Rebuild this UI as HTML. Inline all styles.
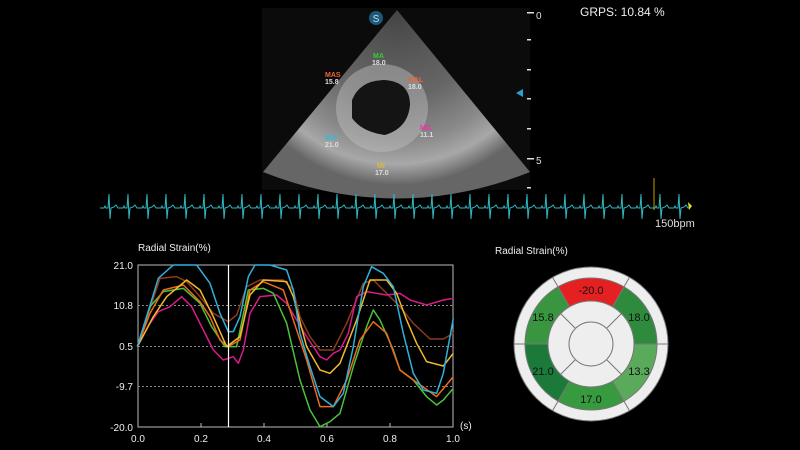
<!DOCTYPE html>
<html><head><meta charset="utf-8"><style>
html,body{margin:0;padding:0;background:#000;width:800px;height:450px;overflow:hidden}
svg{position:absolute;left:0;top:0}
text{font-family:"Liberation Sans",sans-serif}
</style></head><body>
<svg width="800" height="450" viewBox="0 0 800 450">
<defs>
<radialGradient id="us" cx="397" cy="10" r="175" gradientUnits="userSpaceOnUse">
<stop offset="0" stop-color="#444"/><stop offset="0.3" stop-color="#5a5a5a"/><stop offset="0.5" stop-color="#666"/><stop offset="0.75" stop-color="#8a8a8a"/><stop offset="0.88" stop-color="#a8a8a8"/><stop offset="1" stop-color="#666"/>
</radialGradient>
<pattern id="ecg" x="100" y="190" width="19" height="35" patternUnits="userSpaceOnUse">
<path d="M0 18 L4 18 L5 16 L6 18 L8 18 L9 4 L10 29 L11 18 L14 17 L16 15 L18 18 L19 18" fill="none" stroke="#2fb8c0" stroke-width="1"/>
</pattern>
</defs>
<rect x="262" y="8" width="268" height="182" fill="#0b0b0b"/>
<path d="M397 10 L263 172 Q397 225 530 172 Z" fill="url(#us)"/>
<ellipse cx="382" cy="108" rx="46" ry="44" fill="#c0c0c0" opacity="0.45"/>
<path d="M352 100 Q360 80 385 80 Q410 82 410 105 Q408 128 385 135 Q362 132 352 118 Z" fill="#141414"/>
<circle cx="376" cy="18" r="7" fill="#1c5a7a"/>
<text x="376" y="22" font-size="10" fill="#cde" text-anchor="middle">S</text>
<g font-size="7" font-weight="bold">
<text x="373" y="58" fill="#3c3">MA</text><text x="372" y="65" fill="#ddd">18.0</text>
<text x="325" y="77" fill="#e63">MAS</text><text x="325" y="84" fill="#ddd">15.8</text>
<text x="408" y="82" fill="#e63">MAL</text><text x="408" y="89" fill="#ddd">18.0</text>
<text x="420" y="130" fill="#e3a">MIL</text><text x="420" y="137" fill="#ddd">11.1</text>
<text x="325" y="140" fill="#3bd">MIS</text><text x="325" y="147" fill="#ddd">21.0</text>
<text x="377" y="168" fill="#db3">MI</text><text x="375" y="175" fill="#ddd">17.0</text>
</g>
<g fill="#ddd">
<rect x="527" y="12" width="7" height="1.5"/><rect x="527" y="39" width="4" height="1.5"/><rect x="527" y="69" width="4" height="1.5"/><rect x="527" y="98" width="4" height="1.5"/><rect x="527" y="128" width="4" height="1.5"/><rect x="527" y="158" width="7" height="1.5"/><rect x="527" y="187" width="4" height="1.5"/>
</g>
<text x="536" y="19" font-size="10" fill="#ddd">0</text>
<text x="536" y="164" font-size="10" fill="#ddd">5</text>
<path d="M516 93 L523 89 L523 97 Z" fill="#2a9fd0"/>
<text x="580" y="16" font-size="12" fill="#eee">GRPS: 10.84 %</text>
<rect x="100" y="190" width="590" height="35" fill="url(#ecg)"/>
<line x1="654" y1="178" x2="654" y2="210" stroke="#c90" stroke-width="1"/>
<path d="M688 202 L692 206 L689 210 Z" fill="#dd3"/>
<text x="655" y="227" font-size="11" fill="#ddd">150bpm</text>

<text x="138" y="251" font-size="10" fill="#eee">Radial Strain(%)</text>
<rect x="138" y="265" width="315" height="162" fill="none" stroke="#bbb" stroke-width="1"/>
<g stroke="#888" stroke-dasharray="2,2" stroke-width="1">
<line x1="138" y1="305.5" x2="453" y2="305.5"/><line x1="138" y1="346.5" x2="453" y2="346.5"/><line x1="138" y1="386.5" x2="453" y2="386.5"/>
</g>
<g stroke="#bbb"><line x1="201" y1="427" x2="201" y2="423"/><line x1="264" y1="427" x2="264" y2="423"/><line x1="327" y1="427" x2="327" y2="423"/><line x1="390" y1="427" x2="390" y2="423"/></g>
<g font-size="10" fill="#eee" text-anchor="end">
<text x="133" y="269">21.0</text><text x="133" y="309">10.8</text><text x="133" y="350">0.5</text><text x="133" y="390">-9.7</text><text x="133" y="431">-20.0</text>
</g>
<g font-size="10" fill="#eee" text-anchor="middle">
<text x="138" y="442">0.0</text><text x="201" y="442">0.2</text><text x="264" y="442">0.4</text><text x="327" y="442">0.6</text><text x="390" y="442">0.8</text><text x="453" y="442">1.0</text>
</g>
<text x="460" y="429" font-size="10" fill="#eee">(s)</text>
<g transform="translate(100,240) scale(0.3333)" fill="none" stroke-width="4.5" stroke-linejoin="round">
<polyline stroke="#8b3a1a" points="112,320 180,115 230,110 260,125 300,170 340,220 385,245 410,225 440,140 480,120 550,120 580,150 600,230 630,290 660,330 700,330 740,250 790,130 820,120 860,160 900,200 940,250 990,297 1030,297 1060,280"/>
<polyline stroke="#d81b8a" points="112,320 150,250 175,215 210,200 245,170 275,200 310,270 340,330 370,360 400,350 415,370 430,330 450,220 480,170 530,165 560,190 590,240 620,290 660,350 680,360 700,340 720,330 745,280 770,170 800,155 860,165 900,160 930,180 980,195 1030,180 1060,175"/>
<polyline stroke="#4cc23a" points="112,320 150,200 190,155 250,145 300,190 335,260 375,320 410,320 445,150 490,145 520,160 560,250 600,420 630,510 660,560 690,545 720,520 760,380 800,260 820,210 840,240 880,330 900,390 940,420 980,470 1010,495 1030,480 1060,445"/>
<polyline stroke="#ee6a1c" points="112,320 150,220 190,150 250,135 300,185 330,230 360,300 385,320 420,300 450,150 490,125 550,150 580,240 620,360 660,500 700,500 740,420 780,300 820,245 860,280 900,390 940,420 1010,470 1060,410"/>
<polyline stroke="#f2b82a" points="112,320 160,230 200,170 260,120 300,150 340,230 380,320 420,290 450,165 490,120 560,125 580,170 620,320 660,390 690,400 720,370 770,240 810,120 860,120 890,160 920,240 950,310 980,365 1030,378 1060,340"/>
<polyline stroke="#2fb0dc" points="112,320 175,115 220,75 290,75 330,130 360,220 385,275 400,275 420,230 445,110 465,75 510,75 560,90 580,150 600,280 630,380 660,470 700,500 730,460 760,320 790,140 815,80 850,100 880,140 910,280 940,400 970,450 1010,460 1030,400 1060,235"/>
</g>
<line x1="228.5" y1="265" x2="228.5" y2="427" stroke="#fff" stroke-width="1.2"/>

<text x="495" y="254" font-size="10" fill="#eee">Radial Strain(%)</text>
<g transform="translate(591,344)" stroke="#777" stroke-width="1">
<circle r="77" fill="#eee"/>
<path d="M33 -57.2 A66 66 0 0 1 66 0 L43 0 A43 43 0 0 0 21.5 -37.2 Z" fill="#2e8b3e"/>
<path d="M-33 -57.2 A66 66 0 0 1 33 -57.2 L21.5 -37.2 A43 43 0 0 0 -21.5 -37.2 Z" fill="#e52020"/>
<path d="M-66 0 A66 66 0 0 1 -33 -57.2 L-21.5 -37.2 A43 43 0 0 0 -43 0 Z" fill="#3a9540"/>
<path d="M-33 57.2 A66 66 0 0 1 -66 0 L-43 0 A43 43 0 0 0 -21.5 37.2 Z" fill="#1b7a3a"/>
<path d="M33 57.2 A66 66 0 0 1 -33 57.2 L-21.5 37.2 A43 43 0 0 0 21.5 37.2 Z" fill="#379a3e"/>
<path d="M66 0 A66 66 0 0 1 33 57.2 L21.5 37.2 A43 43 0 0 0 43 0 Z" fill="#5aaa5c"/>
<line x1="66" y1="0" x2="77" y2="0"/><line x1="-66" y1="0" x2="-77" y2="0"/>
<line x1="33" y1="-57.2" x2="38.5" y2="-66.7"/><line x1="-33" y1="-57.2" x2="-38.5" y2="-66.7"/>
<line x1="33" y1="57.2" x2="38.5" y2="66.7"/><line x1="-33" y1="57.2" x2="-38.5" y2="66.7"/>
<circle r="43" fill="#eee"/>
<line x1="15.6" y1="-15.6" x2="30.4" y2="-30.4"/><line x1="-15.6" y1="-15.6" x2="-30.4" y2="-30.4"/>
<line x1="15.6" y1="15.6" x2="30.4" y2="30.4"/><line x1="-15.6" y1="15.6" x2="-30.4" y2="30.4"/>
<circle r="22" fill="#eee"/>
</g>
<g font-size="11" fill="#111" text-anchor="middle">
<text x="591" y="294">-20.0</text>
<text x="639" y="321">18.0</text>
<text x="543" y="321">15.8</text>
<text x="543" y="375">21.0</text>
<text x="639" y="375">13.3</text>
<text x="591" y="403">17.0</text>
</g>
</svg>
</body></html>
